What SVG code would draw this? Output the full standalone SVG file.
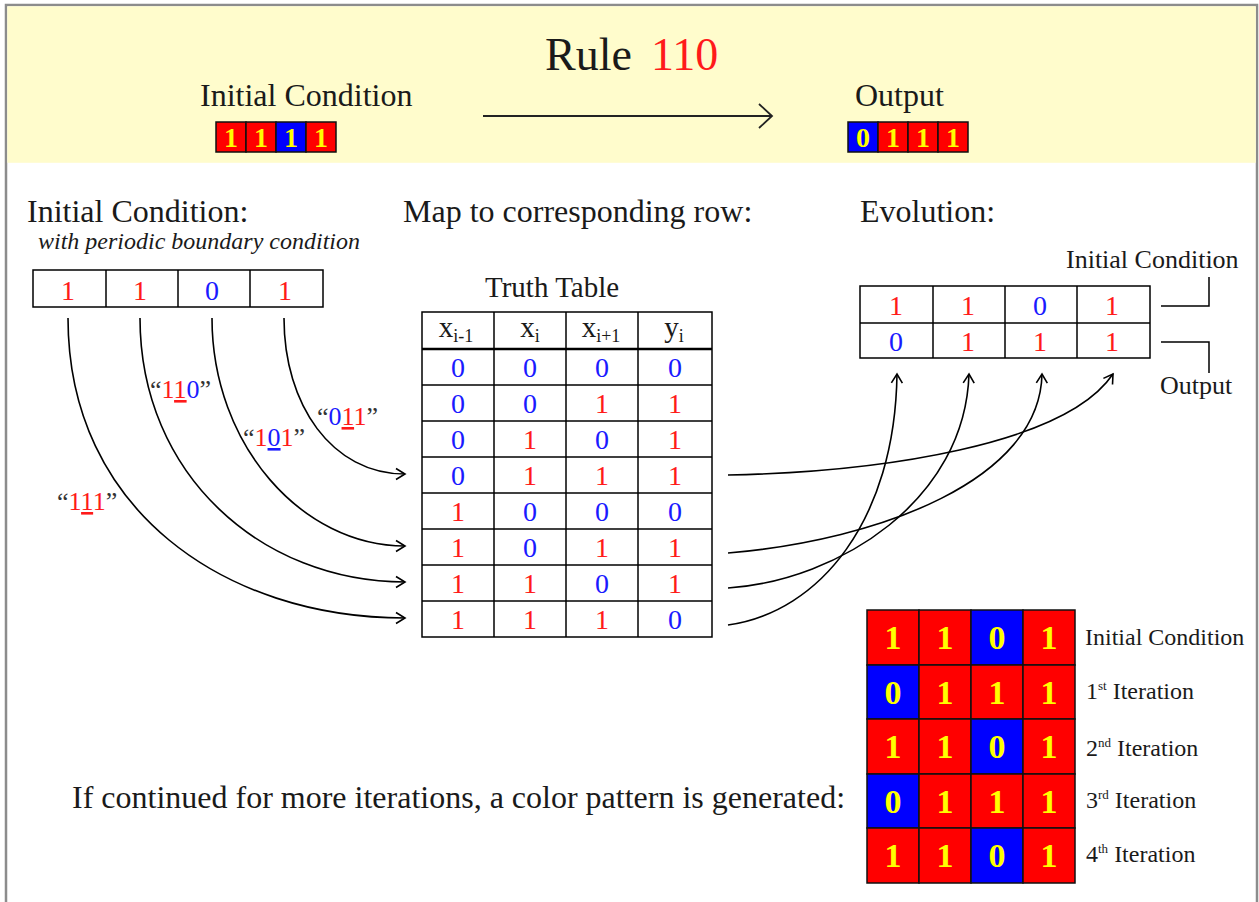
<svg xmlns="http://www.w3.org/2000/svg" width="1259" height="902" viewBox="0 0 1259 902">
  <defs>
    <style>
      .t{font-family:"Liberation Serif","Times New Roman",serif;fill:#1a1a1a}
      .r{fill:#ff1a1a}
      .b{fill:#1a1aff}
      .yd{fill:#ffff00;font-weight:bold;font-family:"Liberation Serif","Times New Roman",serif;text-anchor:middle}
      .d{font-family:"Liberation Serif","Times New Roman",serif;text-anchor:middle;font-size:28px}
      .grid{fill:none;stroke:#000;stroke-width:1.5}
      .cellR{fill:#ff0000;stroke:#111;stroke-width:1.5}
      .cellB{fill:#0000ff;stroke:#111;stroke-width:1.5}
      .conn{fill:none;stroke:#000;stroke-width:1.6}
      .q{fill:#333}
      .u{text-decoration:underline}
    </style>
    <marker id="arrow" markerUnits="userSpaceOnUse" markerWidth="14" markerHeight="14" refX="11" refY="7" orient="auto">
      <path d="M2,1.5 L11,7 L2,12.5" fill="none" stroke="#000" stroke-width="1.6"/>
    </marker>
    <marker id="arrow-lg" markerUnits="userSpaceOnUse" markerWidth="18" markerHeight="28" refX="15" refY="13" orient="auto">
      <path d="M2,1 L15,13 L2,25" fill="none" stroke="#222" stroke-width="1.8"/>
    </marker>
  </defs>

  <!-- page and frame -->
  <rect x="0" y="0" width="1259" height="902" fill="#ffffff"/>
  <rect x="6" y="5" width="1251" height="920" fill="#ffffff" stroke="#8c8c8c" stroke-width="2.5"/>
  <rect x="7.3" y="6.3" width="1248.5" height="156.5" fill="#fffccc"/>

  <!-- header banner -->
  <g id="banner">
    <text class="t" x="545" y="70" font-size="46">Rule</text>
    <text class="t r" x="651" y="70" font-size="46">110</text>
    <text class="t" x="200" y="106" font-size="32">Initial Condition</text>
    <text class="t" x="855" y="106" font-size="32">Output</text>
    <line x1="483" y1="116" x2="772" y2="116" stroke="#222" stroke-width="1.8" marker-end="url(#arrow-lg)"/>
    <g id="banner-initial">
      <rect class="cellR" x="216" y="122" width="30" height="30"/>
      <rect class="cellR" x="246" y="122" width="30" height="30"/>
      <rect class="cellB" x="276" y="122" width="30" height="30"/>
      <rect class="cellR" x="306" y="122" width="30" height="30"/>
      <text class="yd" font-size="28" y="147"><tspan x="231">1</tspan><tspan x="261">1</tspan><tspan x="291">1</tspan><tspan x="321">1</tspan></text>
    </g>
    <g id="banner-output">
      <rect class="cellB" x="848" y="122" width="30" height="30"/>
      <rect class="cellR" x="878" y="122" width="30" height="30"/>
      <rect class="cellR" x="908" y="122" width="30" height="30"/>
      <rect class="cellR" x="938" y="122" width="30" height="30"/>
      <text class="yd" font-size="28" y="147"><tspan x="863">0</tspan><tspan x="893">1</tspan><tspan x="923">1</tspan><tspan x="953">1</tspan></text>
    </g>
  </g>

  <!-- section headings -->
  <g id="headings">
    <text class="t" x="27" y="222" font-size="32">Initial Condition:</text>
    <text class="t" x="38" y="249" font-size="24" font-style="italic" fill="#333">with periodic boundary condition</text>
    <text class="t" x="403" y="222" font-size="32">Map to corresponding row:</text>
    <text class="t" x="860" y="222" font-size="32">Evolution:</text>
  </g>

  <!-- initial condition row -->
  <g id="initial-row">
    <rect class="grid" x="33" y="270" width="290" height="37"/>
    <line class="grid" x1="106" y1="270" x2="106" y2="307"/>
    <line class="grid" x1="178" y1="270" x2="178" y2="307"/>
    <line class="grid" x1="250" y1="270" x2="250" y2="307"/>
    <text class="d" y="300"><tspan class="r" x="68">1</tspan><tspan class="r" x="140">1</tspan><tspan class="b" x="212">0</tspan><tspan class="r" x="285">1</tspan></text>
  </g>

  <!-- truth table -->
  <g id="truth-table">
    <text class="t" x="485" y="297" font-size="29">Truth Table</text>
    <rect class="grid" x="422" y="312" width="290" height="325"/>
    <line class="grid" x1="494" y1="312" x2="494" y2="637"/>
    <line class="grid" x1="566" y1="312" x2="566" y2="637"/>
    <line class="grid" x1="638" y1="312" x2="638" y2="637"/>
    <line x1="422" y1="349" x2="712" y2="349" stroke="#000" stroke-width="2.6"/>
    <line class="grid" x1="422" y1="385" x2="712" y2="385"/>
    <line class="grid" x1="422" y1="421" x2="712" y2="421"/>
    <line class="grid" x1="422" y1="457" x2="712" y2="457"/>
    <line class="grid" x1="422" y1="493" x2="712" y2="493"/>
    <line class="grid" x1="422" y1="529" x2="712" y2="529"/>
    <line class="grid" x1="422" y1="565" x2="712" y2="565"/>
    <line class="grid" x1="422" y1="601" x2="712" y2="601"/>
    <text class="t" x="456" y="337" font-size="29" text-anchor="middle">x<tspan font-size="18" dy="5">i-1</tspan></text>
    <text class="t" x="530" y="337" font-size="29" text-anchor="middle">x<tspan font-size="18" dy="5">i</tspan></text>
    <text class="t" x="601" y="337" font-size="29" text-anchor="middle">x<tspan font-size="18" dy="5">i+1</tspan></text>
    <text class="t" x="674" y="337" font-size="29" text-anchor="middle">y<tspan font-size="18" dy="5">i</tspan></text>
    <text class="d" y="377"><tspan class="b" x="458">0</tspan><tspan class="b" x="530">0</tspan><tspan class="b" x="602">0</tspan><tspan class="b" x="675">0</tspan></text>
    <text class="d" y="413"><tspan class="b" x="458">0</tspan><tspan class="b" x="530">0</tspan><tspan class="r" x="602">1</tspan><tspan class="r" x="675">1</tspan></text>
    <text class="d" y="449"><tspan class="b" x="458">0</tspan><tspan class="r" x="530">1</tspan><tspan class="b" x="602">0</tspan><tspan class="r" x="675">1</tspan></text>
    <text class="d" y="485"><tspan class="b" x="458">0</tspan><tspan class="r" x="530">1</tspan><tspan class="r" x="602">1</tspan><tspan class="r" x="675">1</tspan></text>
    <text class="d" y="521"><tspan class="r" x="458">1</tspan><tspan class="b" x="530">0</tspan><tspan class="b" x="602">0</tspan><tspan class="b" x="675">0</tspan></text>
    <text class="d" y="557"><tspan class="r" x="458">1</tspan><tspan class="b" x="530">0</tspan><tspan class="r" x="602">1</tspan><tspan class="r" x="675">1</tspan></text>
    <text class="d" y="593"><tspan class="r" x="458">1</tspan><tspan class="r" x="530">1</tspan><tspan class="b" x="602">0</tspan><tspan class="r" x="675">1</tspan></text>
    <text class="d" y="629"><tspan class="r" x="458">1</tspan><tspan class="r" x="530">1</tspan><tspan class="r" x="602">1</tspan><tspan class="b" x="675">0</tspan></text>
  </g>

  <!-- evolution rows -->
  <g id="evolution">
    <rect class="grid" x="860" y="286" width="290" height="72"/>
    <line class="grid" x1="860" y1="323" x2="1150" y2="323"/>
    <line class="grid" x1="933" y1="286" x2="933" y2="358"/>
    <line class="grid" x1="1005" y1="286" x2="1005" y2="358"/>
    <line class="grid" x1="1077" y1="286" x2="1077" y2="358"/>
    <text class="d" y="315"><tspan class="r" x="896">1</tspan><tspan class="r" x="968">1</tspan><tspan class="b" x="1040">0</tspan><tspan class="r" x="1112">1</tspan></text>
    <text class="d" y="351"><tspan class="b" x="896">0</tspan><tspan class="r" x="968">1</tspan><tspan class="r" x="1040">1</tspan><tspan class="r" x="1112">1</tspan></text>
    <text class="t" x="1066" y="268" font-size="26" fill="#333">Initial Condition</text>
    <text class="t" x="1160" y="394" font-size="26" fill="#333">Output</text>
    <path class="grid" d="M1161,306 H1209 V277"/>
    <path class="grid" d="M1161,342 H1209 V373"/>
  </g>

  <!-- neighbourhood labels -->
  <g id="labels" font-family="Liberation Serif, Times New Roman, serif" font-size="26">
    <text x="150" y="398"><tspan class="q">“</tspan><tspan class="r">1</tspan><tspan class="r u">1</tspan><tspan class="b">0</tspan><tspan class="q">”</tspan></text>
    <text x="243" y="446"><tspan class="q">“</tspan><tspan class="r">1</tspan><tspan class="b u">0</tspan><tspan class="r">1</tspan><tspan class="q">”</tspan></text>
    <text x="317" y="425"><tspan class="q">“</tspan><tspan class="b">0</tspan><tspan class="r u">1</tspan><tspan class="r">1</tspan><tspan class="q">”</tspan></text>
    <text x="57" y="510"><tspan class="q">“</tspan><tspan class="r">1</tspan><tspan class="r u">1</tspan><tspan class="r">1</tspan><tspan class="q">”</tspan></text>
  </g>

  <!-- connectors -->
  <g id="connectors">
    <path class="conn" d="M68,318 C68,510 225,618 405,618" marker-end="url(#arrow)"/>
    <path class="conn" d="M140,318 C140,475 262,582 405,582" marker-end="url(#arrow)"/>
    <path class="conn" d="M212,318 C212,445 302,546 405,546" marker-end="url(#arrow)"/>
    <path class="conn" d="M284,318 C284,405 332,474 405,474" marker-end="url(#arrow)"/>
    <path class="conn" d="M728,475 C880,472 1065,445 1113,374" marker-end="url(#arrow)"/>
    <path class="conn" d="M728,553 C880,540 1040,480 1042,374" marker-end="url(#arrow)"/>
    <path class="conn" d="M728,588 C840,580 965,500 969,374" marker-end="url(#arrow)"/>
    <path class="conn" d="M728,625 C820,612 895,520 897,374" marker-end="url(#arrow)"/>
  </g>

  <text class="t" x="72" y="808" font-size="32">If continued for more iterations, a color pattern is generated:</text>

  <!-- colour pattern -->
  <g id="pattern">
    <rect class="cellR" x="867" y="610" width="52" height="55"/>
    <rect class="cellR" x="919" y="610" width="52" height="55"/>
    <rect class="cellB" x="971" y="610" width="52" height="55"/>
    <rect class="cellR" x="1023" y="610" width="52" height="55"/>
    <rect class="cellB" x="867" y="665" width="52" height="54"/>
    <rect class="cellR" x="919" y="665" width="52" height="54"/>
    <rect class="cellR" x="971" y="665" width="52" height="54"/>
    <rect class="cellR" x="1023" y="665" width="52" height="54"/>
    <rect class="cellR" x="867" y="719" width="52" height="55"/>
    <rect class="cellR" x="919" y="719" width="52" height="55"/>
    <rect class="cellB" x="971" y="719" width="52" height="55"/>
    <rect class="cellR" x="1023" y="719" width="52" height="55"/>
    <rect class="cellB" x="867" y="774" width="52" height="54"/>
    <rect class="cellR" x="919" y="774" width="52" height="54"/>
    <rect class="cellR" x="971" y="774" width="52" height="54"/>
    <rect class="cellR" x="1023" y="774" width="52" height="54"/>
    <rect class="cellR" x="867" y="828" width="52" height="55"/>
    <rect class="cellR" x="919" y="828" width="52" height="55"/>
    <rect class="cellB" x="971" y="828" width="52" height="55"/>
    <rect class="cellR" x="1023" y="828" width="52" height="55"/>
    <g class="yd" font-size="34">
      <text y="649"><tspan x="893">1</tspan><tspan x="945">1</tspan><tspan x="997">0</tspan><tspan x="1049">1</tspan></text>
      <text y="704"><tspan x="893">0</tspan><tspan x="945">1</tspan><tspan x="997">1</tspan><tspan x="1049">1</tspan></text>
      <text y="758"><tspan x="893">1</tspan><tspan x="945">1</tspan><tspan x="997">0</tspan><tspan x="1049">1</tspan></text>
      <text y="813"><tspan x="893">0</tspan><tspan x="945">1</tspan><tspan x="997">1</tspan><tspan x="1049">1</tspan></text>
      <text y="867"><tspan x="893">1</tspan><tspan x="945">1</tspan><tspan x="997">0</tspan><tspan x="1049">1</tspan></text>
    </g>
    <g class="t" font-size="24" fill="#333">
      <text x="1085" y="645">Initial Condition</text>
      <text x="1086" y="699">1<tspan font-size="13" dy="-9">st</tspan><tspan dy="9"> Iteration</tspan></text>
      <text x="1086" y="756">2<tspan font-size="13" dy="-9">nd</tspan><tspan dy="9"> Iteration</tspan></text>
      <text x="1086" y="808">3<tspan font-size="13" dy="-9">rd</tspan><tspan dy="9"> Iteration</tspan></text>
      <text x="1086" y="862">4<tspan font-size="13" dy="-9">th</tspan><tspan dy="9"> Iteration</tspan></text>
    </g>
  </g>
</svg>
